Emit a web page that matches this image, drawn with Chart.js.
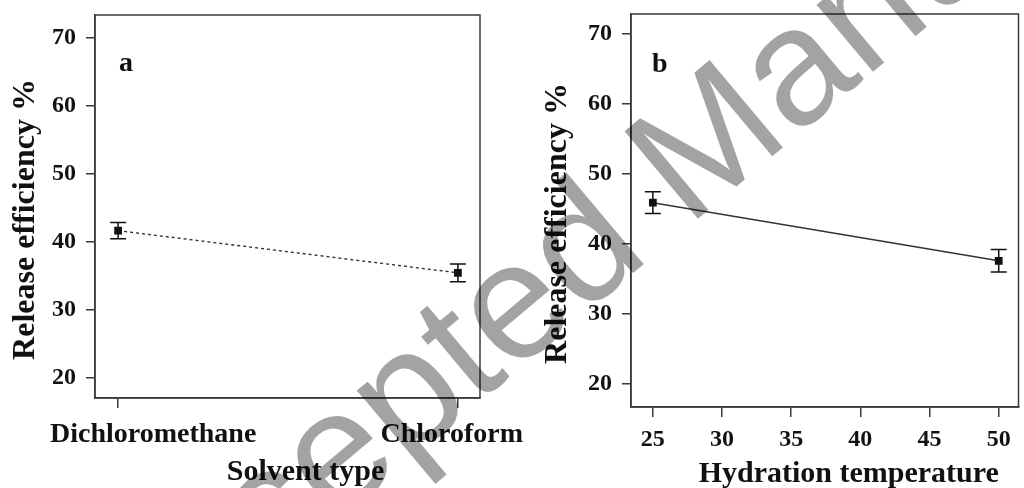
<!DOCTYPE html>
<html>
<head>
<meta charset="utf-8">
<script src="https://cdn.jsdelivr.net/npm/chart.js@4.4.0/dist/chart.umd.min.js"></script>
<style>
  html, body { margin: 0; padding: 0; background: #fff; }
  #wrap { position: relative; width: 1024px; height: 488px; overflow: hidden; }
  #panelA { position: absolute; left: 0; top: 0; }
  #panelB { position: absolute; left: 530px; top: 0; }
  #stamp { position: absolute; left: 0; top: 0; pointer-events: none; }
</style>
</head>
<body>
<div id="wrap">
  <canvas id="panelA" width="530" height="488"></canvas>
  <canvas id="panelB" width="494" height="488"></canvas>
  <canvas id="stamp" width="1024" height="488"></canvas>
</div>
<script>
// panel a: solvent type
const solventTypes = ['Dichloromethane', 'Chloroform'];
const solventMeans = [41.6, 35.4];
const solventErrors = [1.2, 1.3];

// panel b: hydration temperature
const hydrationTemps = [25, 50];
const hydrationMeans = [45.9, 37.6];
const hydrationErrors = [1.55, 1.6];
const tempTicks = [25, 30, 35, 40, 45, 50];

const efficiencyTicks = [20, 30, 40, 50, 60, 70];

const serif = '"Liberation Serif", "Times New Roman", serif';
const ink = '#111';
const axisColor = '#3a3a3a';

// vertical error bars with caps, read from plugin options
const errorBars = {
  id: 'errorBars',
  afterDatasetsDraw(chart, args, opts) {
    const { ctx, scales: { x, y } } = chart;
    const pts = chart.data.datasets[0].data;
    ctx.save();
    ctx.strokeStyle = ink;
    ctx.lineWidth = 1.5;
    pts.forEach((p, i) => {
      const e = opts.errors[i];
      const px = x.getPixelForValue(p.x);
      const hi = y.getPixelForValue(p.y + e);
      const lo = y.getPixelForValue(p.y - e);
      ctx.beginPath();
      ctx.moveTo(px, hi); ctx.lineTo(px, lo);
      ctx.moveTo(px - 8, hi); ctx.lineTo(px + 8, hi);
      ctx.moveTo(px - 8, lo); ctx.lineTo(px + 8, lo);
      ctx.stroke();
    });
    ctx.restore();
  }
};

// closed box around the plot area, panel letter and axis titles
const frame = {
  id: 'frame',
  afterDraw(chart, args, opts) {
    const { ctx, chartArea: a } = chart;
    ctx.save();
    ctx.strokeStyle = axisColor;
    ctx.lineWidth = 1.5;
    ctx.strokeRect(a.left, a.top, a.right - a.left, a.bottom - a.top);

    ctx.fillStyle = ink;
    ctx.textBaseline = 'alphabetic';
    ctx.font = 'bold 28px ' + serif;
    ctx.textAlign = 'left';
    ctx.fillText(opts.tag, a.left + opts.tagX, a.top + opts.tagY);

    ctx.textAlign = 'center';
    ctx.font = 'bold 30px ' + serif;
    ctx.fillText(opts.xTitle, (a.left + a.right) / 2 + opts.xShift, opts.xBaseline);

    ctx.font = 'bold 32px ' + serif;
    ctx.textBaseline = 'middle';
    ctx.translate(a.left - opts.yInset, (a.top + a.bottom) / 2 + 13);
    ctx.rotate(-Math.PI / 2);
    ctx.fillText('Release efficiency %', 0, 0);
    ctx.restore();
  }
};

// category names under the ticks, kept inside the canvas edges
const categoryLabels = {
  id: 'categoryLabels',
  afterDraw(chart, args, opts) {
    if (!opts.names) return;
    const { ctx, scales: { x } } = chart;
    ctx.save();
    ctx.fillStyle = ink;
    ctx.font = 'bold 28px ' + serif;
    ctx.textAlign = 'center';
    ctx.textBaseline = 'alphabetic';
    opts.names.forEach((name, i) => {
      const w = ctx.measureText(name).width;
      const px = x.getPixelForValue(i);
      const cx = Math.min(Math.max(px, 50 + w / 2), chart.width - 7 - w / 2);
      ctx.fillText(name, cx, opts.baseline);
    });
    ctx.restore();
  }
};

function yScale(min, max, width) {
  return {
    min: min, max: max,
    afterBuildTicks: s => { s.ticks = efficiencyTicks.map(v => ({ value: v })); },
    afterFit: s => {
      s.width = width;
      s.paddingTop = 0; s.paddingBottom = 0;
    },
    grid: { drawOnChartArea: false, tickLength: 9, color: axisColor, lineWidth: 1.5 },
    border: { display: true, color: axisColor, width: 1.5 },
    ticks: { color: ink, padding: 10, font: { family: serif, size: 24, weight: 'bold' } }
  };
}

function xScale(min, max, height, ticks, showLabels) {
  return {
    type: 'linear', min: min, max: max,
    afterBuildTicks: s => { s.ticks = ticks.map(v => ({ value: v })); },
    afterFit: s => {
      s.height = height;
      s.paddingLeft = 0; s.paddingRight = 0;
    },
    grid: { drawOnChartArea: false, tickLength: 10, color: axisColor, lineWidth: 1.5 },
    border: { display: true, color: axisColor, width: 1.5 },
    ticks: { display: showLabels, color: ink, padding: 8, maxRotation: 0, font: { family: serif, size: 24, weight: 'bold' } }
  };
}

function lineSet(xs, ys, dash) {
  return {
    data: xs.map((v, i) => ({ x: v, y: ys[i] })),
    borderColor: '#333',
    borderWidth: 1.4,
    borderDash: dash,
    pointStyle: 'rect',
    pointRadius: 5.5,
    pointBackgroundColor: ink,
    pointBorderColor: ink,
    pointBorderWidth: 0,
    fill: false,
    tension: 0
  };
}

const common = {
  responsive: false,
  animation: false,
  events: [],
  plugins: { legend: { display: false }, tooltip: { enabled: false } }
};

new Chart(document.getElementById('panelA'), {
  type: 'line',
  data: { datasets: [lineSet(solventTypes.map((_, i) => i), solventMeans, [3, 3])] },
  options: {
    ...common,
    layout: { padding: { top: 15, right: 50, left: 0, bottom: 0 } },
    scales: {
      x: xScale(-0.068, 1.065, 90, solventTypes.map((_, i) => i), false),
      y: yScale(17.0, 73.3, 95)
    },
    plugins: {
      ...common.plugins,
      errorBars: { errors: solventErrors },
      frame: { tag: 'a', tagX: 24, tagY: 56, xTitle: 'Solvent type', xShift: 18, xBaseline: 480, yInset: 69 },
      categoryLabels: { names: solventTypes, baseline: 442 }
    }
  },
  plugins: [errorBars, frame, categoryLabels]
});

new Chart(document.getElementById('panelB'), {
  type: 'line',
  data: { datasets: [lineSet(hydrationTemps, hydrationMeans, [])] },
  options: {
    ...common,
    layout: { padding: { top: 14, right: 2, left: 0, bottom: 0 } },
    scales: {
      x: xScale(23.42, 51.43, 81, tempTicks, true),
      y: yScale(16.71, 72.86, 101)
    },
    plugins: {
      ...common.plugins,
      errorBars: { errors: hydrationErrors },
      frame: { tag: 'b', tagX: 21, tagY: 58, xTitle: 'Hydration temperature', xShift: 24, xBaseline: 482, yInset: 73 },
      categoryLabels: {}
    }
  },
  plugins: [errorBars, frame, categoryLabels]
});

// diagonal "Accepted Manuscript" stamp across both panels
const sc = document.getElementById('stamp').getContext('2d');
sc.save();
sc.translate(122, 702);
sc.rotate(-40 * Math.PI / 180);
sc.font = '166px "Liberation Sans", Arial, sans-serif';
sc.fillStyle = 'rgba(0, 0, 0, 0.36)';
sc.fillText('Accepted Manuscript', 0, 0);
sc.restore();
</script>
</body>
</html>
